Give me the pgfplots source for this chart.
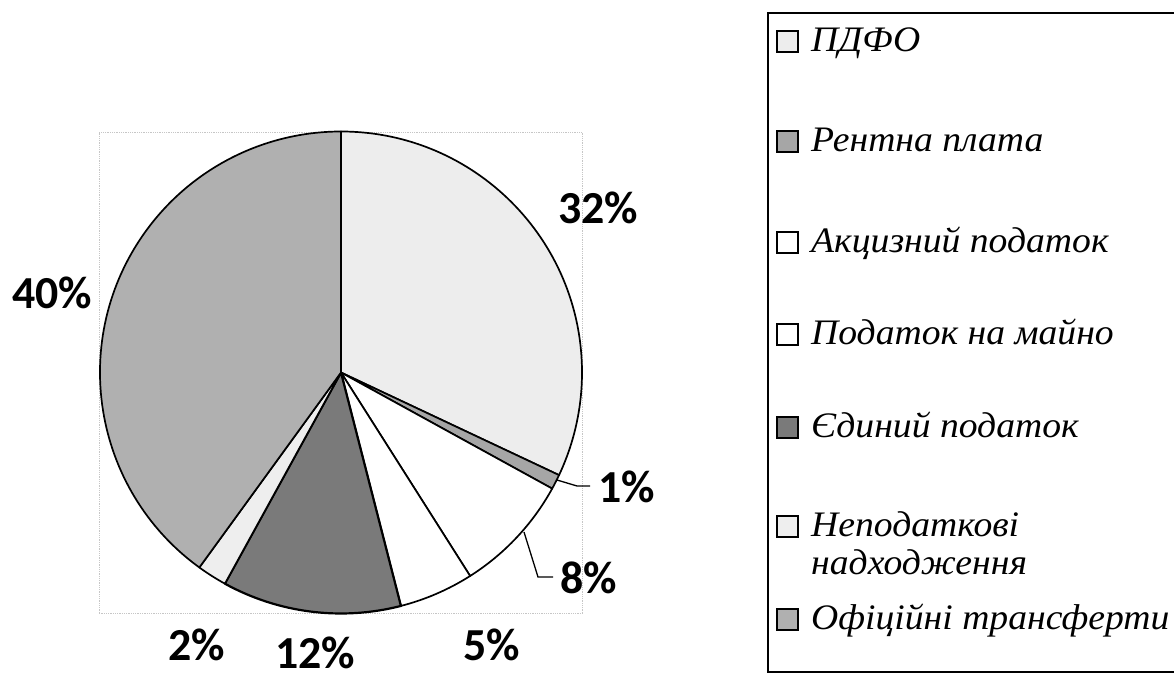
\documentclass[border=0pt]{standalone}
\usepackage{fontspec}
\usepackage{pgfplots}
\usepackage{pgfplotstable}
\pgfplotsset{compat=1.18}
\setmainfont{Liberation Serif}
\newfontfamily\lblfont{Carlito}
\newfontfamily\legfont[FakeStretch=1.05]{Liberation Serif}
\definecolor{cPDFO}{HTML}{EDEDED}
\definecolor{cRent}{HTML}{A6A6A6}
\definecolor{cAkc}{HTML}{FFFFFF}
\definecolor{cMain}{HTML}{FFFFFF}
\definecolor{cEdyn}{HTML}{7A7A7A}
\definecolor{cNepod}{HTML}{EEEEEE}
\definecolor{cTrans}{HTML}{B0B0B0}
\pgfplotstableread{
share
32
1
8
5
12
2
40
}\piedata
\begin{document}%
\begin{tikzpicture}
\pgfmathsetmacro\angA{90}
\pgfplotstablegetelem{0}{share}\of\piedata \pgfmathsetmacro\angB{\angA-3.6*\pgfplotsretval}
\pgfplotstablegetelem{1}{share}\of\piedata \pgfmathsetmacro\angC{\angB-3.6*\pgfplotsretval}
\pgfplotstablegetelem{2}{share}\of\piedata \pgfmathsetmacro\angD{\angC-3.6*\pgfplotsretval}
\pgfplotstablegetelem{3}{share}\of\piedata \pgfmathsetmacro\angE{\angD-3.6*\pgfplotsretval}
\pgfplotstablegetelem{4}{share}\of\piedata \pgfmathsetmacro\angF{\angE-3.6*\pgfplotsretval}
\pgfplotstablegetelem{5}{share}\of\piedata \pgfmathsetmacro\angG{\angF-3.6*\pgfplotsretval}
\pgfplotstablegetelem{6}{share}\of\piedata \pgfmathsetmacro\angH{\angG-3.6*\pgfplotsretval}
\begin{axis}[width=1174bp,height=680bp,scale only axis,
  xmin=0,xmax=1174,ymin=0,ymax=680,hide axis,clip=false]
\draw[gray!45, densely dotted, line width=0.8bp] (axis cs:99,67) rectangle (axis cs:582,548);
\tikzset{slice/.style={draw=black, line width=1.7bp, line join=round}}
\filldraw[slice, fill=cPDFO] (axis cs:341,307.5) -- ++(\angA:241bp) arc[start angle=\angA,end angle=\angB,radius=241bp] -- cycle;
\filldraw[slice, fill=cRent] (axis cs:341,307.5) -- ++(\angB:241bp) arc[start angle=\angB,end angle=\angC,radius=241bp] -- cycle;
\filldraw[slice, fill=cAkc] (axis cs:341,307.5) -- ++(\angC:241bp) arc[start angle=\angC,end angle=\angD,radius=241bp] -- cycle;
\filldraw[slice, fill=cMain] (axis cs:341,307.5) -- ++(\angD:241bp) arc[start angle=\angD,end angle=\angE,radius=241bp] -- cycle;
\filldraw[slice, fill=cEdyn, line width=2.2bp] (axis cs:341,307.5) -- ++(\angE:241bp) arc[start angle=\angE,end angle=\angF,radius=241bp] -- cycle;
\filldraw[slice, fill=cNepod] (axis cs:341,307.5) -- ++(\angF:241bp) arc[start angle=\angF,end angle=\angG,radius=241bp] -- cycle;
\filldraw[slice, fill=cTrans] (axis cs:341,307.5) -- ++(\angG:241bp) arc[start angle=\angG,end angle=\angH,radius=241bp] -- cycle;
% leader lines
\draw[black, line width=1.3bp] (axis cs:557,200) -- (axis cs:577,194) -- (axis cs:590,194);
\draw[black, line width=1.3bp] (axis cs:524,148) -- (axis cs:538,103) -- (axis cs:553,103);
% data labels
\tikzset{lbl/.style={font=\lblfont\bfseries\fontsize{46}{50}\selectfont, inner sep=0pt, anchor=center}}
\node[lbl] at (axis cs:598,472) {32\%};
\node[lbl] at (axis cs:627,193) {1\%};
\node[lbl] at (axis cs:589,102) {8\%};
\node[lbl] at (axis cs:492,35) {5\%};
\node[lbl] at (axis cs:315,27) {12\%};
\node[lbl] at (axis cs:197,35) {2\%};
\node[lbl] at (axis cs:52,387) {40\%};
\end{axis}
% legend
\draw[line width=1.5bp] (1190bp,667bp) -- (768bp,667bp) -- (768bp,8bp) -- (1190bp,8bp);
\tikzset{lt/.style={font=\legfont\itshape\fontsize{36}{40}\selectfont, inner sep=0pt, anchor=base west},
  mk/.style={draw=black, line width=1.2bp}}
\filldraw[mk, fill=cPDFO] (777bp,628bp) rectangle (798bp,649bp);
\node[lt] at (811bp,628bp) {ПДФО};
\filldraw[mk, fill=cRent] (777bp,528bp) rectangle (798bp,549bp);
\node[lt] at (811bp,528bp) {Рентна плата};
\filldraw[mk, fill=cAkc] (777bp,427bp) rectangle (798bp,448bp);
\node[lt] at (811bp,427bp) {Акцизний податок};
\filldraw[mk, fill=cMain] (777bp,335bp) rectangle (798bp,356bp);
\node[lt] at (811bp,335bp) {Податок на майно};
\filldraw[mk, fill=cEdyn] (777bp,242bp) rectangle (798bp,263bp);
\node[lt] at (811bp,242bp) {Єдиний податок};
\filldraw[mk, fill=cNepod] (777bp,143bp) rectangle (798bp,164bp);
\node[lt] at (811bp,143bp) {Неподаткові};
\node[lt] at (811bp,105bp) {надходження};
\filldraw[mk, fill=cTrans] (777bp,50bp) rectangle (798bp,71bp);
\node[lt] at (811bp,50bp) {Офіційні трансферти};
\pgfresetboundingbox
\useasboundingbox (0,0) rectangle (1174bp,680bp);
\end{tikzpicture}%
\end{document}
